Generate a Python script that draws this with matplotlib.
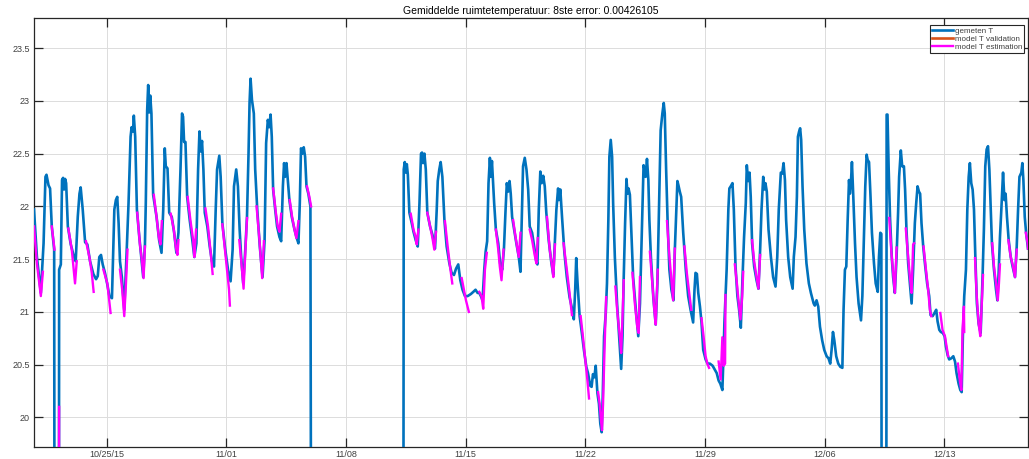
import matplotlib
matplotlib.use("Agg")
import matplotlib.pyplot as plt
import matplotlib.dates as mdates
import numpy as np

nan = float("nan")

# tijd in dagen vanaf 2015-10-20 00:00
start = "2015-10-20"

# gemeten ruimtetemperatuur (uitvallers zitten onder de as)
meet_t = [
    0.75, 0.92, 1.15, 1.31, 1.42, 1.48, 1.60, 1.69, 1.79, 1.93, 1.95, 2.21, 2.22, 2.32, 2.39, 2.45,
    2.51, 2.57, 2.63, 2.73, 2.90, 3.06, 3.19, 3.31, 3.41, 3.48, 3.60, 3.74, 3.87, 4.03, 4.22, 4.38,
    4.48, 4.57, 4.67, 4.77, 4.90, 5.04, 5.16, 5.31, 5.39, 5.45, 5.54, 5.62, 5.70, 5.78, 5.89, 6.03,
    6.17, 6.28, 6.40, 6.46, 6.54, 6.59, 6.67, 6.77, 6.91, 7.04, 7.14, 7.24, 7.29, 7.37, 7.43, 7.49,
    7.55, 7.62, 7.72, 7.92, 8.07, 8.21, 8.31, 8.40, 8.46, 8.56, 8.66, 8.81, 8.95, 9.08, 9.20, 9.32,
    9.41, 9.47, 9.53, 9.61, 9.71, 9.86, 10.02, 10.13, 10.25, 10.35, 10.43, 10.50, 10.58, 10.66, 10.74, 10.89,
    11.03, 11.16, 11.28, 11.38, 11.46, 11.59, 11.67, 11.77, 11.94, 12.10, 12.25, 12.37, 12.45, 12.58, 12.68, 12.78,
    12.87, 12.99, 13.11, 13.21, 13.30, 13.36, 13.42, 13.50, 13.61, 13.69, 13.81, 13.96, 14.12, 14.24, 14.33, 14.43,
    14.51, 14.59, 14.66, 14.74, 14.86, 14.97, 15.11, 15.21, 15.31, 15.38, 15.44, 15.52, 15.60, 15.69, 15.83, 15.99,
    16.10, 16.22, 16.30, 16.37, 16.45, 16.53, 16.61, 16.69, 16.80, 16.92, 16.96, 19.50, 22.36, 22.38, 22.44, 22.50,
    22.56, 22.62, 22.71, 22.85, 22.95, 23.08, 23.20, 23.30, 23.39, 23.45, 23.51, 23.59, 23.67, 23.76, 23.92, 24.06,
    24.21, 24.31, 24.37, 24.46, 24.54, 24.64, 24.76, 24.89, 25.05, 25.18, 25.32, 25.44, 25.57, 25.69, 25.82, 25.96,
    26.12, 26.31, 26.45, 26.58, 26.70, 26.80, 26.89, 26.99, 27.09, 27.17, 27.26, 27.34, 27.42, 27.48, 27.54, 27.59,
    27.67, 27.77, 27.91, 28.02, 28.14, 28.24, 28.33, 28.41, 28.49, 28.57, 28.64, 28.72, 28.84, 28.97, 29.11, 29.21,
    29.27, 29.36, 29.46, 29.56, 29.66, 29.75, 29.89, 30.01, 30.12, 30.20, 30.28, 30.37, 30.45, 30.54, 30.63, 30.72,
    30.86, 31.02, 31.13, 31.21, 31.31, 31.41, 31.46, 31.54, 31.64, 31.78, 31.92, 32.08, 32.24, 32.33, 32.41, 32.47,
    32.55, 32.67, 32.80, 32.92, 33.06, 33.16, 33.29, 33.37, 33.45, 33.53, 33.61, 33.71, 33.80, 33.88, 33.96, 34.02,
    34.10, 34.20, 34.27, 34.35, 34.41, 34.49, 34.57, 34.63, 34.73, 34.86, 34.98, 35.10, 35.18, 35.25, 35.33, 35.41,
    35.47, 35.53, 35.61, 35.69, 35.80, 35.96, 36.10, 36.20, 36.27, 36.35, 36.41, 36.47, 36.53, 36.61, 36.69, 36.75,
    36.84, 36.98, 37.12, 37.22, 37.31, 37.41, 37.51, 37.59, 37.65, 37.73, 37.82, 37.92, 38.04, 38.16, 38.24, 38.31,
    38.39, 38.45, 38.53, 38.61, 38.73, 38.88, 39.02, 39.16, 39.31, 39.39, 39.45, 39.53, 39.61, 39.71, 39.80, 39.90,
    40.04, 40.16, 40.29, 40.45, 40.55, 40.69, 40.80, 40.90, 41.02, 41.08, 41.14, 41.20, 41.27, 41.37, 41.43, 41.51,
    41.61, 41.69, 41.79, 41.90, 42.00, 42.10, 42.20, 42.29, 42.39, 42.45, 42.53, 42.61, 42.68, 42.76, 42.88, 43.02,
    43.13, 43.23, 43.31, 43.41, 43.48, 43.54, 43.62, 43.72, 43.86, 43.99, 44.13, 44.23, 44.32, 44.44, 44.52, 44.60,
    44.68, 44.75, 44.87, 44.99, 45.13, 45.20, 45.30, 45.38, 45.44, 45.51, 45.57, 45.63, 45.71, 45.81, 45.94, 46.08,
    46.20, 46.36, 46.43, 46.53, 46.63, 46.73, 46.86, 46.98, 47.12, 47.23, 47.33, 47.41, 47.49, 47.57, 47.68, 47.80,
    47.92, 48.04, 48.11, 48.19, 48.27, 48.35, 48.43, 48.48, 48.54, 48.60, 48.68, 48.78, 48.87, 48.99, 49.13, 49.21,
    49.30, 49.38, 49.46, 49.52, 49.60, 49.68, 49.77, 49.89, 49.99, 50.11, 50.18, 50.26, 50.32, 50.34, 50.61, 50.63,
    50.68, 50.75, 50.83, 50.93, 51.01, 51.11, 51.21, 51.30, 51.36, 51.46, 51.54, 51.64, 51.71, 51.79, 51.89, 51.99,
    52.09, 52.18, 52.28, 52.36, 52.44, 52.52, 52.59, 52.67, 52.77, 52.89, 53.00, 53.12, 53.20, 53.32, 53.43, 53.53,
    53.61, 53.71, 53.80, 53.92, 54.02, 54.10, 54.20, 54.29, 54.41, 54.53, 54.63, 54.72, 54.84, 54.94, 55.02, 55.09,
    55.17, 55.27, 55.35, 55.43, 55.50, 55.58, 55.66, 55.74, 55.82, 55.91, 56.01, 56.13, 56.23, 56.32, 56.40, 56.48,
    56.56, 56.64, 56.72, 56.79, 56.91, 57.03, 57.11, 57.19, 57.26, 57.34, 57.44, 57.52, 57.59, 57.67, 57.77, 57.89,
    58.00, 58.14, 58.24, 58.32, 58.40, 58.51, 58.57, 58.63, 58.71, 58.79, 58.90,
]
meet_T = [
    21.97, 21.52, 21.18, 21.65, 22.28, 22.30, 22.20, 22.17, 21.81, 21.59, 18.5, 18.5, 21.40, 21.45, 22.25, 22.27,
    22.16, 22.26, 22.22, 21.81, 21.64, 21.54, 21.48, 21.90, 22.12, 22.18, 21.97, 21.66, 21.64, 21.48, 21.36, 21.31,
    21.34, 21.52, 21.54, 21.45, 21.37, 21.26, 21.15, 21.13, 21.62, 21.97, 22.06, 22.09, 21.84, 21.48, 21.33, 21.02,
    21.57, 22.03, 22.66, 22.75, 22.71, 22.86, 22.66, 21.97, 21.71, 21.49, 21.33, 21.64, 22.03, 22.91, 23.15, 22.89,
    23.05, 22.88, 22.11, 21.90, 21.68, 21.56, 21.97, 22.55, 22.38, 22.36, 21.94, 21.90, 21.75, 21.56, 21.75, 22.35,
    22.88, 22.85, 22.61, 22.61, 22.09, 21.87, 21.67, 21.52, 21.65, 22.35, 22.71, 22.52, 22.62, 22.35, 21.94, 21.81,
    21.62, 21.48, 21.43, 21.97, 22.35, 22.48, 22.28, 21.84, 21.59, 21.40, 21.29, 21.59, 22.19, 22.35, 22.19, 21.78,
    21.52, 21.27, 21.59, 21.90, 22.50, 22.98, 23.21, 23.01, 22.88, 22.35, 21.97, 21.62, 21.33, 21.68, 22.60, 22.82,
    22.75, 22.87, 22.66, 22.16, 21.97, 21.81, 21.71, 21.67, 22.19, 22.41, 22.28, 22.41, 22.25, 22.06, 21.90, 21.78,
    21.71, 21.65, 22.03, 22.55, 22.50, 22.56, 22.47, 22.19, 22.12, 22.00, 18.5, nan, 18.5, 22.35, 22.42, 22.32,
    22.40, 22.30, 21.94, 21.84, 21.76, 21.68, 21.62, 22.03, 22.50, 22.51, 22.41, 22.50, 22.35, 21.94, 21.81, 21.73,
    21.60, 21.97, 22.24, 22.35, 22.42, 22.28, 21.87, 21.62, 21.46, 21.37, 21.35, 21.41, 21.45, 21.30, 21.21, 21.15,
    21.15, 21.17, 21.19, 21.21, 21.18, 21.18, 21.15, 21.11, 21.40, 21.57, 21.67, 22.22, 22.46, 22.28, 22.43, 22.27,
    22.03, 21.78, 21.65, 21.46, 21.40, 21.59, 21.94, 22.22, 22.14, 22.24, 22.12, 21.90, 21.78, 21.65, 21.52, 21.38,
    21.78, 22.38, 22.46, 22.35, 22.16, 21.81, 21.75, 21.62, 21.49, 21.45, 21.97, 22.33, 22.22, 22.29, 22.19, 21.94,
    21.68, 21.46, 21.35, 21.62, 21.97, 22.17, 22.06, 22.16, 21.90, 21.56, 21.33, 21.14, 21.02, 20.93, 21.21, 21.51,
    21.27, 20.96, 20.80, 20.64, 20.48, 20.42, 20.30, 20.29, 20.41, 20.38, 20.49, 20.23, 20.13, 19.94, 19.86, 20.19,
    20.77, 20.99, 21.27, 21.87, 22.47, 22.63, 22.47, 22.03, 21.52, 21.08, 20.77, 20.46, 20.77, 21.33, 21.84, 22.26,
    22.12, 22.17, 22.11, 21.78, 21.33, 21.02, 20.77, 21.08, 21.52, 22.03, 22.39, 22.35, 22.28, 22.45, 22.25, 21.87,
    21.52, 21.14, 20.88, 21.27, 21.97, 22.72, 22.88, 22.98, 22.88, 22.35, 21.84, 21.40, 21.21, 21.11, 21.59, 21.90,
    22.24, 22.20, 22.14, 22.09, 21.75, 21.40, 21.15, 21.02, 20.90, 21.21, 21.37, 21.36, 21.18, 21.05, 20.90, 20.64,
    20.55, 20.51, 20.51, 20.49, 20.46, 20.42, 20.35, 20.32, 20.26, 20.55, 20.90, 21.14, 21.40, 21.97, 22.17, 22.19,
    22.22, 21.97, 21.43, 21.15, 21.02, 20.85, 21.33, 21.71, 22.03, 22.39, 22.24, 22.32, 22.09, 21.65, 21.43, 21.30,
    21.22, 21.59, 21.97, 22.28, 22.16, 22.22, 22.14, 21.78, 21.52, 21.33, 21.24, 21.52, 21.97, 22.32, 22.31, 22.41,
    22.25, 21.87, 21.52, 21.33, 21.22, 21.52, 21.71, 22.09, 22.66, 22.71, 22.74, 22.63, 22.19, 21.78, 21.46, 21.27,
    21.18, 21.08, 21.06, 21.11, 21.05, 20.86, 20.73, 20.64, 20.58, 20.56, 20.51, 20.64, 20.81, 20.73, 20.58, 20.51,
    20.48, 20.47, 21.02, 21.40, 21.43, 21.87, 22.25, 22.12, 22.22, 22.42, 22.09, 21.65, 21.33, 21.08, 20.92, 21.15,
    21.71, 22.19, 22.49, 22.44, 22.42, 22.12, 21.75, 21.46, 21.27, 21.19, 21.52, 21.75, 21.74, 18.5, 18.5, 22.87,
    22.87, 22.35, 21.89, 21.52, 21.33, 21.18, 21.52, 21.94, 22.28, 22.53, 22.38, 22.38, 22.16, 21.78, 21.46, 21.27,
    21.08, 21.40, 21.84, 22.03, 22.19, 22.14, 22.12, 21.84, 21.62, 21.43, 21.27, 21.15, 20.97, 20.96, 20.99, 21.02,
    20.91, 20.83, 20.81, 20.80, 20.77, 20.67, 20.59, 20.55, 20.56, 20.58, 20.53, 20.42, 20.32, 20.26, 20.24, 20.77,
    21.15, 21.40, 21.97, 22.28, 22.41, 22.22, 22.16, 21.97, 21.52, 21.08, 20.89, 20.80, 21.27, 21.78, 22.38, 22.54,
    22.57, 22.35, 21.97, 21.65, 21.40, 21.21, 21.11, 21.40, 21.71, 21.97, 22.32, 22.06, 22.12, 21.90, 21.68, 21.52,
    21.43, 21.33, 21.62, 21.97, 22.28, 22.32, 22.41, 22.25, 21.90, 21.75, 21.60,
]

# model T estimation: losse stukken, gescheiden door nan
est_t = [
    0.75, 0.92, 1.15, 1.27, nan, 1.79, 1.95, nan, 2.20, 2.22, nan,
    2.76, 2.96, 3.15, 3.25, nan, 3.79, 3.99, 4.13, 4.24, nan, 4.81, 5.04, 5.23, nan,
    5.78, 5.91, 6.03, 6.13, 6.22, nan, 6.79, 6.94, 7.06, 7.16, 7.24, nan,
    7.76, 7.92, 8.05, 8.15, 8.23, nan, 8.75, 8.93, 9.04, 9.14, 9.20, nan,
    9.74, 9.90, 10.06, 10.13, 10.23, nan, 10.78, 10.93, 11.07, 11.20, nan,
    11.77, 11.90, 12.04, 12.16, 12.21, nan, 12.76, 12.87, 13.01, 13.11, 13.21, nan,
    13.77, 13.94, 14.10, 14.20, nan, 14.74, 14.90, 15.01, 15.11, 15.21, nan,
    15.71, 15.85, 15.99, 16.10, 16.22, nan, 16.72, 16.86, 16.96, nan,
    22.79, 22.95, 23.08, 23.14, 23.24, nan, 23.76, 23.92, 24.06, 24.17, 24.27, nan,
    24.79, 24.95, 25.09, 25.22, nan, 25.77, 25.90, 26.02, 26.19, nan,
    26.80, 26.93, 27.03, 27.13, 27.24, nan, 27.77, 27.91, 28.00, 28.10, 28.22, nan,
    28.78, 28.92, 29.03, 29.11, 29.21, nan, 29.75, 29.89, 30.04, 30.14, 30.22, nan,
    30.76, 30.92, 31.06, 31.13, 31.23, nan, 31.73, 31.92, 32.08, 32.22, nan,
    32.73, 32.86, 33.00, 33.12, 33.22, nan, 33.75, 33.84, 33.92, 33.98, 34.04, 34.12, 34.22, nan,
    34.76, 34.88, 35.02, 35.10, 35.18, 35.25, nan, 35.76, 35.90, 36.04, 36.12, 36.20, nan,
    36.78, 36.92, 37.04, 37.12, 37.24, nan, 37.78, 37.92, 38.04, 38.14, 38.24, nan,
    38.80, 38.94, 39.10, 39.20, nan, 39.80, 39.92, 40.04, 40.14, 40.24, nan,
    40.80, 40.92, 41.02, 41.10, 41.18, 41.20, nan, 41.75, 41.87, 41.98, 42.08, 42.18, 42.24, nan,
    42.76, 42.88, 43.02, 43.13, 43.23, nan, 50.78, 50.91, 51.01, 51.11, 51.21, nan,
    51.75, 51.89, 51.99, 52.09, 52.18, 52.24, nan, 52.79, 52.93, 53.06, 53.16, 53.24, nan,
    53.77, 53.90, 54.04, 54.14, 54.23, nan, 54.80, 54.92, 55.00, 55.07, 55.15, 55.17, nan,
    55.80, 55.90, 56.01, 56.11, 56.19, 56.27, nan, 56.81, 56.91, 57.03, 57.13, 57.20, 57.26, nan,
    57.75, 57.89, 58.00, 58.14, 58.24, nan, 58.77, 58.88, 58.90,
]
est_T = [
    21.81, 21.46, 21.15, 21.38, nan, 21.81, 21.59, nan, 18.5, 20.10, nan,
    21.79, 21.59, 21.27, 21.48, nan, 21.67, 21.52, 21.37, 21.19, nan, 21.40, 21.27, 20.99, nan,
    21.40, 21.21, 20.96, 21.27, 21.59, nan, 21.94, 21.65, 21.49, 21.32, 21.62, nan,
    22.11, 21.90, 21.71, 21.64, 21.86, nan, 21.93, 21.78, 21.62, 21.54, 21.68, nan,
    22.09, 21.87, 21.68, 21.52, 21.78, nan, 21.98, 21.81, 21.59, 21.36, nan,
    21.83, 21.62, 21.40, 21.21, 21.06, nan, 21.68, 21.49, 21.22, 21.56, 21.89, nan,
    22.00, 21.68, 21.32, 21.67, nan, 22.17, 21.94, 21.81, 21.76, 21.93, nan,
    22.06, 21.90, 21.78, 21.70, 21.86, nan, 22.19, 22.09, 22.00, nan,
    21.93, 21.78, 21.71, 21.64, 21.78, nan, 21.94, 21.81, 21.70, 21.59, 21.76, nan,
    21.86, 21.62, 21.43, 21.27, nan, 21.32, 21.21, 21.11, 21.00, nan,
    21.19, 21.15, 21.03, 21.40, 21.56, nan, 21.78, 21.59, 21.43, 21.30, 21.59, nan,
    21.87, 21.71, 21.60, 21.52, 21.75, nan, 21.78, 21.68, 21.54, 21.46, 21.70, nan,
    21.90, 21.59, 21.43, 21.33, 21.64, nan, 21.65, 21.40, 21.18, 20.97, nan,
    20.96, 20.77, 20.55, 20.36, 20.18, nan, 20.24, 20.13, 19.97, 19.88, 20.13, 20.61, 21.14, nan,
    21.24, 20.99, 20.77, 20.61, 20.96, 21.30, nan, 21.37, 21.08, 20.86, 20.80, 21.33, nan,
    21.57, 21.27, 21.02, 20.88, 21.40, nan, 21.86, 21.53, 21.30, 21.11, 21.60, nan,
    21.62, 21.37, 21.15, 21.02, nan, 20.94, 20.77, 20.58, 20.51, 20.47, nan,
    20.53, 20.36, 20.76, 20.49, 20.51, 21.16, nan, 21.45, 21.27, 21.08, 20.93, 21.15, 21.38, nan,
    21.68, 21.48, 21.33, 21.22, 21.54, nan, 21.89, 21.56, 21.37, 21.18, 21.61, nan,
    21.79, 21.52, 21.33, 21.18, 21.64, 21.65, nan, 21.62, 21.40, 21.21, 21.02, 20.96, nan,
    20.99, 20.83, 20.77, 20.67, 20.58, nan, 20.51, 20.34, 20.26, 20.83, 21.05, 20.81, nan,
    21.51, 21.15, 20.89, 20.77, 21.05, 21.35, nan, 21.65, 21.43, 21.27, 21.11, 21.27, 21.45, nan,
    21.68, 21.52, 21.45, 21.33, 21.59, nan, 21.75, 21.65, 21.60,
]

# model T validation bestaat niet voor deze periode
val_t = []
val_T = []

tick_dates = ["2015-10-25", "2015-11-01", "2015-11-08", "2015-11-15",
              "2015-11-22", "2015-11-29", "2015-12-06", "2015-12-13"]
tick_labels = ["10/25/15", "11/01", "11/08", "11/15", "11/22", "11/29", "12/06", "12/13"]
y_ticks = [20, 20.5, 21, 21.5, 22, 22.5, 23, 23.5]

titel = "Gemiddelde ruimtetemperatuur: 8ste error: 0.00426105"

plt.rcParams["font.family"] = ["Liberation Sans", "DejaVu Sans"]
dark = "#262626"

t0 = mdates.datestr2num(start)
x_meet = t0 + np.array(meet_t)
x_est = t0 + np.array(est_t)
x_val = t0 + np.array(val_t)

fig = plt.figure(figsize=(10.29, 4.59), dpi=100)
ax = fig.add_axes([34 / 1029, 12 / 459, 994 / 1029, 429 / 459])

ax.plot(x_meet, meet_T, color="#0072BD", linewidth=1.9, label="gemeten T", zorder=3)
ax.plot(x_val, val_T, color="#D95319", linewidth=1.9, label="model T validation", zorder=4)
ax.plot(x_est, est_T, color="#FF00FF", linewidth=1.7, label="model T estimation", zorder=5)

ax.set_xlim(x_meet[0], x_meet[-1])
ax.set_ylim(19.72, 23.785)
ax.set_xticks([mdates.datestr2num(d) for d in tick_dates])
ax.set_xticklabels(tick_labels)
ax.set_yticks(y_ticks)
ax.set_yticklabels(["%g" % v for v in y_ticks])

ax.grid(True, color="#dcdcdc", linewidth=0.7)
ax.set_axisbelow(True)
ax.tick_params(direction="in", length=6.5, width=0.9, colors=dark, labelsize=6.5,
               top=True, right=True, labelcolor="#404040")
ax.tick_params(axis="y", pad=3)
ax.tick_params(axis="x", pad=2)
for s in ax.spines.values():
    s.set_color(dark)
    s.set_linewidth(0.9)

ax.set_title(titel, fontsize=7.5, color="black", pad=3)

leg = ax.legend(loc="upper right", bbox_to_anchor=(1 - 4 / 994, 1 - 7 / 429), borderaxespad=0,
                fontsize=5.8, handlelength=2.5, handletextpad=0.25, borderpad=0.25,
                labelspacing=0.05, fancybox=False, framealpha=1)
leg.get_frame().set_edgecolor(dark)
leg.get_frame().set_linewidth(0.8)
for txt in leg.get_texts():
    txt.set_color("#404040")

plt.savefig("out.png", dpi=100)
